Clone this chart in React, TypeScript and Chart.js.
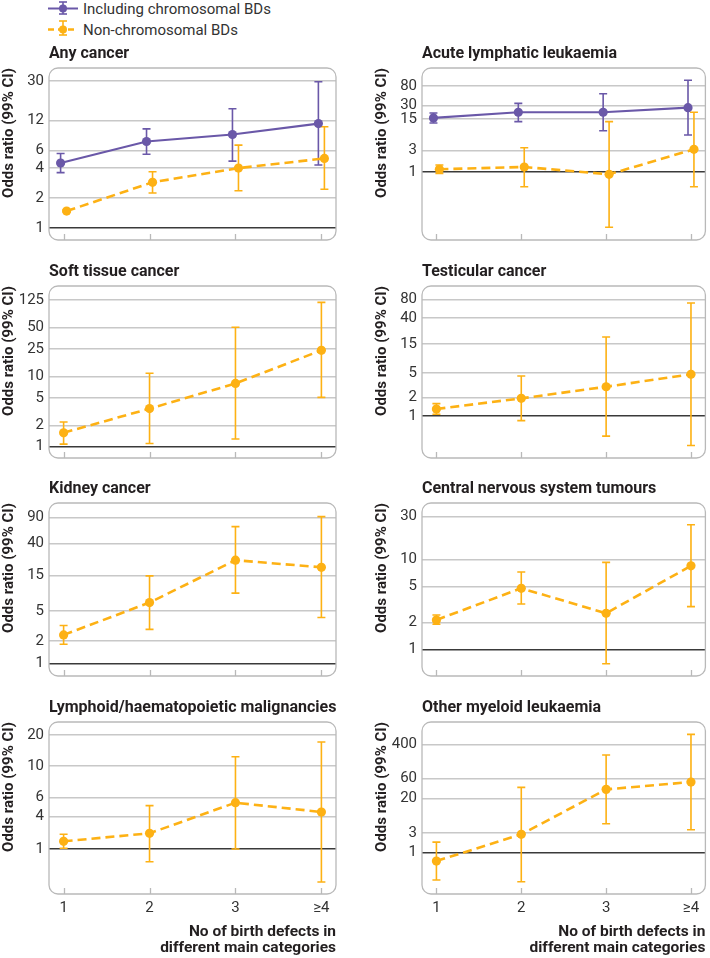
import React, { useEffect, useRef } from 'react';
import { Chart, registerables, LogarithmicScale } from 'chart.js';

Chart.register(...registerables);

// ---------- shared labels ----------
const CATEGORIES = ['1', '2', '3', '≥4'];
const CATEGORY_VALUES = [1, 2, 3, 4];
const X_TITLE = ['No of birth defects in', 'different main categories'];
const Y_TITLE = 'Odds ratio (99% CI)';
const LEGEND_LABELS = ['Including chromosomal BDs', 'Non-chromosomal BDs'];

// ---------- Any cancer ----------
const anyTitle = 'Any cancer';
const anyTicks = [1, 2, 4, 6, 12, 30];
const anyChromOR = [4.5, 7.4, 8.7, 11.2];
const anyChromLo = [3.6, 5.5, 4.7, 4.3];
const anyChromHi = [5.6, 9.9, 15.8, 29.5];
const anyNonOR = [1.48, 2.88, 4.0, 5.0];
const anyNonLo = [1.45, 2.25, 2.37, 2.45];
const anyNonHi = [1.52, 3.68, 6.8, 10.4];

// ---------- Acute lymphatic leukaemia ----------
const allTitle = 'Acute lymphatic leukaemia';
const allTicks = [1, 3, 15, 30, 80];
const allChromOR = [15.7, 21, 21, 26.5];
const allChromLo = [12.1, 13, 8.2, 6.6];
const allChromHi = [20.2, 33, 54, 107];
const allNonOR = [1.15, 1.29, 0.89, 3.18];
const allNonLo = [0.93, 0.47, 0.06, 0.47];
const allNonHi = [1.43, 3.45, 13, 21];

// ---------- Soft tissue cancer ----------
const softTitle = 'Soft tissue cancer';
const softTicks = [1, 2, 5, 10, 25, 50, 125];
const softNonOR = [1.58, 3.5, 8.0, 23.8];
const softNonLo = [1.09, 1.11, 1.29, 5.07];
const softNonHi = [2.25, 11.2, 50.7, 115];

// ---------- Testicular cancer ----------
const testTitle = 'Testicular cancer';
const testTicks = [1, 2, 5, 15, 40, 80];
const testNonOR = [1.3, 1.94, 3.0, 4.8];
const testNonLo = [1.07, 0.84, 0.47, 0.33];
const testNonHi = [1.59, 4.5, 19.4, 69.7];

// ---------- Kidney cancer ----------
const kidTitle = 'Kidney cancer';
const kidTicks = [1, 2, 5, 15, 40, 90];
const kidNonOR = [2.4, 6.5, 24, 19.3];
const kidNonLo = [1.8, 2.85, 8.7, 4.1];
const kidNonHi = [3.2, 14.8, 67.6, 92];

// ---------- Central nervous system tumours ----------
const cnsTitle = 'Central nervous system tumours';
const cnsTicks = [1, 2, 5, 10, 30];
const cnsNonOR = [2.12, 4.78, 2.52, 8.5];
const cnsNonLo = [1.9, 3.2, 0.69, 2.99];
const cnsNonHi = [2.41, 7.26, 9.3, 24.4];

// ---------- Lymphoid/haematopoietic malignancies ----------
const lymTitle = 'Lymphoid/haematopoietic malignancies';
const lymTicks = [1, 4, 6, 10, 20];
const lymNonOR = [1.39, 1.96, 5.39, 4.42];
const lymNonLo = [1.03, 0.58, 1.0, 0.243];
const lymNonHi = [1.88, 5.06, 12.3, 17.1];
// the original figure spaces this axis unevenly; relative spacing of its tick values
const lymTickSpacing = [0, 32.3, 51.3, 83, 114];

// ---------- Other myeloid leukaemia ----------
const omlTitle = 'Other myeloid leukaemia';
const omlTicks = [1, 3, 20, 60, 400];
const omlNonOR = [0.63, 2.76, 33.3, 50];
const omlNonLo = [0.22, 0.2, 4.98, 3.57];
const omlNonHi = [1.8, 37.2, 223, 698];

// ---------- styles ----------
const FONT = "Roboto, 'Open Sans', sans-serif";
const PURPLE = '#6a58a8';
const ORANGE = '#fdb114';
const TEXT = '#231f20';
const TICK_TEXT = '#333333';
const GRID = '#c8c8c8';
const FRAME = '#b9b9b9';

Chart.defaults.font.family = FONT;

// custom log scale that follows an uneven tick spacing
class WarpedLogScale extends LogarithmicScale {
  static id = 'warpedLog';
  static defaults = {};
  warp(v: number) {
    const la = lymTicks.map((t) => Math.log10(t));
    const p = lymTickSpacing;
    const n = la.length;
    const lv = Math.log10(v);
    let i = 0;
    if (lv <= la[0]) i = 0;
    else if (lv >= la[n - 1]) i = n - 2;
    else {
      while (lv > la[i + 1]) i++;
    }
    return p[i] + ((lv - la[i]) * (p[i + 1] - p[i])) / (la[i + 1] - la[i]);
  }
  unwarp(w: number) {
    const la = lymTicks.map((t) => Math.log10(t));
    const p = lymTickSpacing;
    const n = la.length;
    let i = 0;
    if (w <= p[0]) i = 0;
    else if (w >= p[n - 1]) i = n - 2;
    else {
      while (w > p[i + 1]) i++;
    }
    return Math.pow(10, la[i] + ((w - p[i]) * (la[i + 1] - la[i])) / (p[i + 1] - p[i]));
  }
  getPixelForValue(value: number) {
    const w0 = this.warp(this.min);
    const w1 = this.warp(this.max);
    return this.getPixelForDecimal((this.warp(value) - w0) / (w1 - w0));
  }
  getValueForPixel(pixel: number) {
    const w0 = this.warp(this.min);
    const w1 = this.warp(this.max);
    return this.unwarp(w0 + this.getDecimalForPixel(pixel) * (w1 - w0));
  }
}
Chart.register(WarpedLogScale as any);

type Series = { kind: 'chrom' | 'non'; or: number[]; lo: number[]; hi: number[] };
type PanelCfg = {
  title: string;
  ticks: number[];
  min: number;
  max: number;
  scaleType: string;
  series: Series[];
  col: number;
  row: number;
};

const PANELS: PanelCfg[] = [
  {
    title: anyTitle, ticks: anyTicks, min: 0.758, max: 40.5, scaleType: 'logarithmic', col: 0, row: 0,
    series: [
      { kind: 'chrom', or: anyChromOR, lo: anyChromLo, hi: anyChromHi },
      { kind: 'non', or: anyNonOR, lo: anyNonLo, hi: anyNonHi },
    ],
  },
  {
    title: allTitle, ticks: allTicks, min: 0.0313, max: 200, scaleType: 'logarithmic', col: 1, row: 0,
    series: [
      { kind: 'chrom', or: allChromOR, lo: allChromLo, hi: allChromHi },
      { kind: 'non', or: allNonOR, lo: allNonLo, hi: allNonHi },
    ],
  },
  {
    title: softTitle, ticks: softTicks, min: 0.69, max: 197, scaleType: 'logarithmic', col: 0, row: 1,
    series: [{ kind: 'non', or: softNonOR, lo: softNonLo, hi: softNonHi }],
  },
  {
    title: testTitle, ticks: testTicks, min: 0.2065, max: 132, scaleType: 'logarithmic', col: 1, row: 1,
    series: [{ kind: 'non', or: testNonOR, lo: testNonLo, hi: testNonHi }],
  },
  {
    title: kidTitle, ticks: kidTicks, min: 0.676, max: 140, scaleType: 'logarithmic', col: 0, row: 2,
    series: [{ kind: 'non', or: kidNonOR, lo: kidNonLo, hi: kidNonHi }],
  },
  {
    title: cnsTitle, ticks: cnsTicks, min: 0.504, max: 42.6, scaleType: 'logarithmic', col: 1, row: 2,
    series: [{ kind: 'non', or: cnsNonOR, lo: cnsNonLo, hi: cnsNonHi }],
  },
  {
    title: lymTitle, ticks: lymTicks, min: 0.145, max: 26.7, scaleType: 'warpedLog', col: 0, row: 3,
    series: [{ kind: 'non', or: lymNonOR, lo: lymNonLo, hi: lymNonHi }],
  },
  {
    title: omlTitle, ticks: omlTicks, min: 0.1017, max: 1387, scaleType: 'logarithmic', col: 1, row: 3,
    series: [{ kind: 'non', or: omlNonOR, lo: omlNonLo, hi: omlNonHi }],
  },
];

// layout (page pixels)
const BOX_TOPS = [68, 286, 503, 722];
const BOX_HEIGHTS = [172, 172, 173, 172];
const COL_LEFT = [0, 373];
const COL_WIDTH = [360, 337];
const COL_PAD_RIGHT = [24, 2];
const Y_AXIS_W = 49;
const TOP_PAD = 30;
const BOTTOM_PAD = 18;
const PAGE_H = 958;

const errorBarPlugin = {
  id: 'errorBars',
  beforeDatasetsDraw(chart: any) {
    const { ctx } = chart;
    const xs = chart.scales.x;
    const ys = chart.scales.y;
    chart.data.datasets.forEach((ds: any) => {
      ctx.save();
      ctx.strokeStyle = ds.borderColor;
      ctx.lineWidth = 1.6;
      ctx.setLineDash([]);
      const cap = 4;
      ds.data.forEach((pt: any, i: number) => {
        const px = xs.getPixelForValue(pt.x);
        const yl = ys.getPixelForValue(ds.errLo[i]);
        const yh = ys.getPixelForValue(ds.errHi[i]);
        ctx.beginPath();
        ctx.moveTo(px, yl);
        ctx.lineTo(px, yh);
        ctx.moveTo(px - cap, yl);
        ctx.lineTo(px + cap, yl);
        ctx.moveTo(px - cap, yh);
        ctx.lineTo(px + cap, yh);
        ctx.stroke();
      });
      ctx.restore();
    });
  },
};

const framePlugin = {
  id: 'frame',
  afterDraw(chart: any, _args: any, opts: any) {
    const { ctx, chartArea: a } = chart;
    const xs = chart.scales.x;
    ctx.save();
    // rounded frame
    ctx.strokeStyle = FRAME;
    ctx.lineWidth = 1.3;
    ctx.beginPath();
    (ctx as any).roundRect(a.left, a.top, a.right - a.left, a.bottom - a.top, 9);
    ctx.stroke();
    // small inner ticks at categories
    ctx.beginPath();
    CATEGORY_VALUES.forEach((v) => {
      const px = Math.round(xs.getPixelForValue(v)) + 0.5;
      ctx.moveTo(px, a.bottom);
      ctx.lineTo(px, a.bottom - 6);
    });
    ctx.stroke();
    // panel title
    ctx.fillStyle = TEXT;
    ctx.font = `bold 16px ${FONT}`;
    ctx.textAlign = 'left';
    ctx.textBaseline = 'alphabetic';
    ctx.fillText(opts.text, a.left, a.top - 9.7);
    ctx.restore();
  },
};

function Panel({ cfg }: { cfg: PanelCfg }) {
  const ref = useRef<HTMLCanvasElement>(null);
  const isBottom = cfg.row === 3;
  const left = COL_LEFT[cfg.col];
  const width = COL_WIDTH[cfg.col];
  const top = BOX_TOPS[cfg.row] - TOP_PAD;
  const height = isBottom ? PAGE_H - top : TOP_PAD + BOX_HEIGHTS[cfg.row] + BOTTOM_PAD;
  const xAxisH = isBottom ? height - TOP_PAD - BOX_HEIGHTS[cfg.row] : 0;

  useEffect(() => {
    const dodge = cfg.series.length > 1 ? 0.035 : 0;
    const datasets = cfg.series.map((s) => {
      const color = s.kind === 'chrom' ? PURPLE : ORANGE;
      const off = s.kind === 'chrom' ? -dodge : dodge;
      return {
        data: s.or.map((v, i) => ({ x: CATEGORY_VALUES[i] + off, y: v })),
        errLo: s.lo,
        errHi: s.hi,
        borderColor: color,
        backgroundColor: color,
        borderWidth: s.kind === 'chrom' ? 2.2 : 2.6,
        borderDash: s.kind === 'chrom' ? [] : [9, 5],
        pointRadius: 4.6,
        pointBorderWidth: 0,
        pointBackgroundColor: color,
        fill: false,
        tension: 0,
      };
    });
    // draw orange first so purple sits on top in two-series panels
    datasets.reverse();

    const chart = new Chart(ref.current as HTMLCanvasElement, {
      type: 'line',
      data: { datasets } as any,
      plugins: [errorBarPlugin, framePlugin],
      options: {
        responsive: false,
        animation: false,
        layout: {
          padding: {
            top: TOP_PAD,
            right: COL_PAD_RIGHT[cfg.col],
            bottom: isBottom ? 0 : BOTTOM_PAD,
            left: 0,
          },
        },
        plugins: {
          legend: { display: false },
          tooltip: { enabled: false },
          frame: { text: cfg.title },
        } as any,
        scales: {
          x: {
            type: 'linear',
            min: 0.83,
            max: 4.17,
            display: isBottom,
            grid: { display: false, drawTicks: false },
            border: { display: false },
            afterBuildTicks: (s: any) => {
              s.ticks = CATEGORY_VALUES.map((v) => ({ value: v }));
            },
            afterFit: (s: any) => {
              s.height = xAxisH;
            },
            ticks: {
              autoSkip: false,
              maxRotation: 0,
              padding: 5,
              color: TICK_TEXT,
              font: { family: FONT, size: 15 },
              callback: (v: any) => CATEGORIES[CATEGORY_VALUES.indexOf(Number(v))] ?? '',
            },
            title: {
              display: true,
              text: X_TITLE,
              align: 'end',
              color: TEXT,
              font: { family: FONT, size: 15.5, weight: 'bold', lineHeight: 1.0 },
              padding: { top: 4, bottom: 2.5 },
            },
          },
          y: {
            type: cfg.scaleType as any,
            min: cfg.min,
            max: cfg.max,
            afterBuildTicks: (s: any) => {
              s.ticks = cfg.ticks.map((v) => ({ value: v }));
            },
            afterFit: (s: any) => {
              s.width = Y_AXIS_W;
            },
            grid: {
              drawTicks: false,
              color: (c: any) => (c.tick && c.tick.value === 1 ? '#3a3a3a' : GRID),
              lineWidth: 1.4,
            },
            border: { display: false },
            ticks: {
              autoSkip: false,
              padding: 5,
              color: TICK_TEXT,
              font: { family: FONT, size: 15 },
              callback: (v: any) => String(v),
            },
            title: {
              display: true,
              text: Y_TITLE,
              align: 'end',
              color: TEXT,
              font: { family: FONT, size: 15, weight: 'bold' },
              padding: { top: 0, bottom: 0 },
            },
          },
        } as any,
      },
    } as any);
    return () => chart.destroy();
  }, []);

  return (
    <canvas
      ref={ref}
      width={width}
      height={height}
      style={{ position: 'absolute', left, top, width, height }}
    />
  );
}

function Legend() {
  return (
    <svg width={320} height={42} style={{ position: 'absolute', left: 0, top: 0 }}>
      <g stroke={PURPLE} strokeWidth={2}>
        <line x1={48} y1={8.5} x2={78} y2={8.5} />
        <line x1={63} y1={2} x2={63} y2={14} strokeWidth={1.6} />
        <line x1={59} y1={2} x2={67} y2={2} strokeWidth={1.6} />
        <line x1={59} y1={14} x2={67} y2={14} strokeWidth={1.6} />
      </g>
      <circle cx={63} cy={8.5} r={4} fill={PURPLE} />
      <g stroke={ORANGE} strokeWidth={2.4}>
        <line x1={48} y1={29.5} x2={78} y2={29.5} strokeDasharray="6 4" />
        <line x1={63} y1={21} x2={63} y2={35} strokeWidth={1.6} />
        <line x1={59} y1={21} x2={67} y2={21} strokeWidth={1.6} />
        <line x1={59} y1={35} x2={67} y2={35} strokeWidth={1.6} />
      </g>
      <circle cx={63} cy={29.5} r={4} fill={ORANGE} />
      <text x={83} y={14} fontFamily={FONT} fontSize={15} fill={TICK_TEXT}>
        {LEGEND_LABELS[0]}
      </text>
      <text x={83} y={35} fontFamily={FONT} fontSize={15} fill={TICK_TEXT}>
        {LEGEND_LABELS[1]}
      </text>
    </svg>
  );
}

export default function App() {
  return (
    <div style={{ position: 'absolute', left: 0, top: 0, width: 710, height: 958, background: '#fff' }}>
      <Legend />
      {PANELS.map((p, i) => (
        <Panel key={i} cfg={p} />
      ))}
    </div>
  );
}
